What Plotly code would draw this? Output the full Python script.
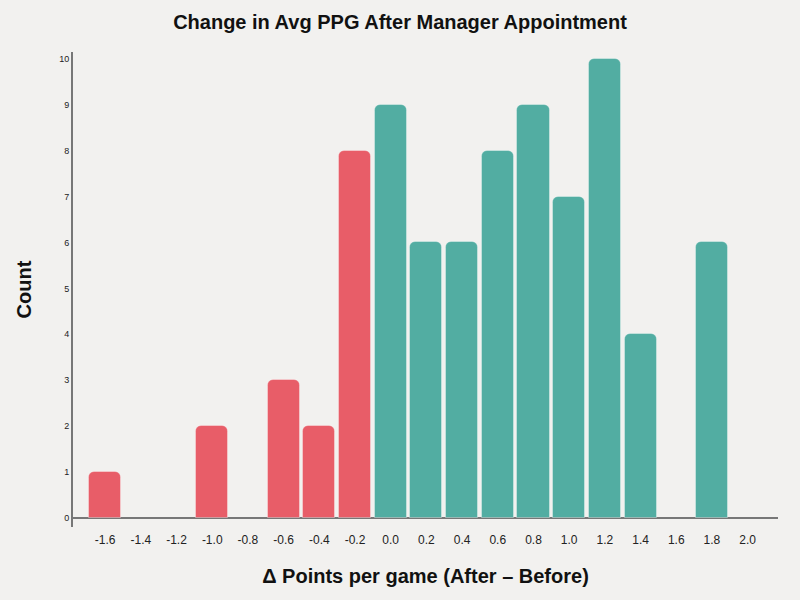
import plotly.graph_objects as go

bins = [-1.6, -1.0, -0.6, -0.4, -0.2, 0.0, 0.2, 0.4, 0.6, 0.8, 1.0, 1.2, 1.4, 1.8]
counts = [1, 2, 3, 2, 8, 9, 6, 6, 8, 9, 7, 10, 4, 6]
tick_vals = [round(-1.6 + 0.2 * i, 1) for i in range(19)]
tick_text = [f"{v:.1f}" for v in tick_vals]

RED = "#e85d68"
TEAL = "#52ada2"
colors = [RED if b < 0 else TEAL for b in bins]

fig = go.Figure(go.Bar(
    x=bins, y=counts, width=0.18,
    marker=dict(color=colors, cornerradius=6,
                line=dict(color="rgba(255,255,255,0.35)", width=1)),
))

fig.update_layout(
    width=800, height=600,
    paper_bgcolor="#f2f1ef", plot_bgcolor="#f2f1ef",
    margin=dict(l=73, r=22, t=52, b=73),
    font=dict(family="Liberation Sans, Arial, sans-serif", color="#222"),
    title=dict(text="<b>Change in Avg PPG After Manager Appointment</b>",
               x=0.5, xanchor="center", y=0.963, yanchor="middle",
               font=dict(size=20, color="#111")),
    showlegend=False,
    bargap=0,
)
fig.update_xaxes(
    range=[-1.78, 2.17], tickvals=tick_vals, ticktext=tick_text,
    showgrid=False, showline=False, zeroline=False, ticks="outside",
    ticklen=2, tickcolor="rgba(0,0,0,0)",
    tickfont=dict(size=12, color="#222"),
    title=dict(text="<b>Δ Points per game (After – Before)</b>",
               font=dict(size=20, color="#111"), standoff=22),
)
fig.update_yaxes(
    range=[-0.2, 10.15], dtick=1, showgrid=False,
    showline=True, linecolor="#777", linewidth=2,
    zeroline=True, zerolinecolor="#777", zerolinewidth=2,
    ticks="", tickfont=dict(size=9, color="#222"),
    title=dict(text="<b>Count</b>", font=dict(size=20, color="#111"), standoff=22),
)

fig.write_html("out.html")
